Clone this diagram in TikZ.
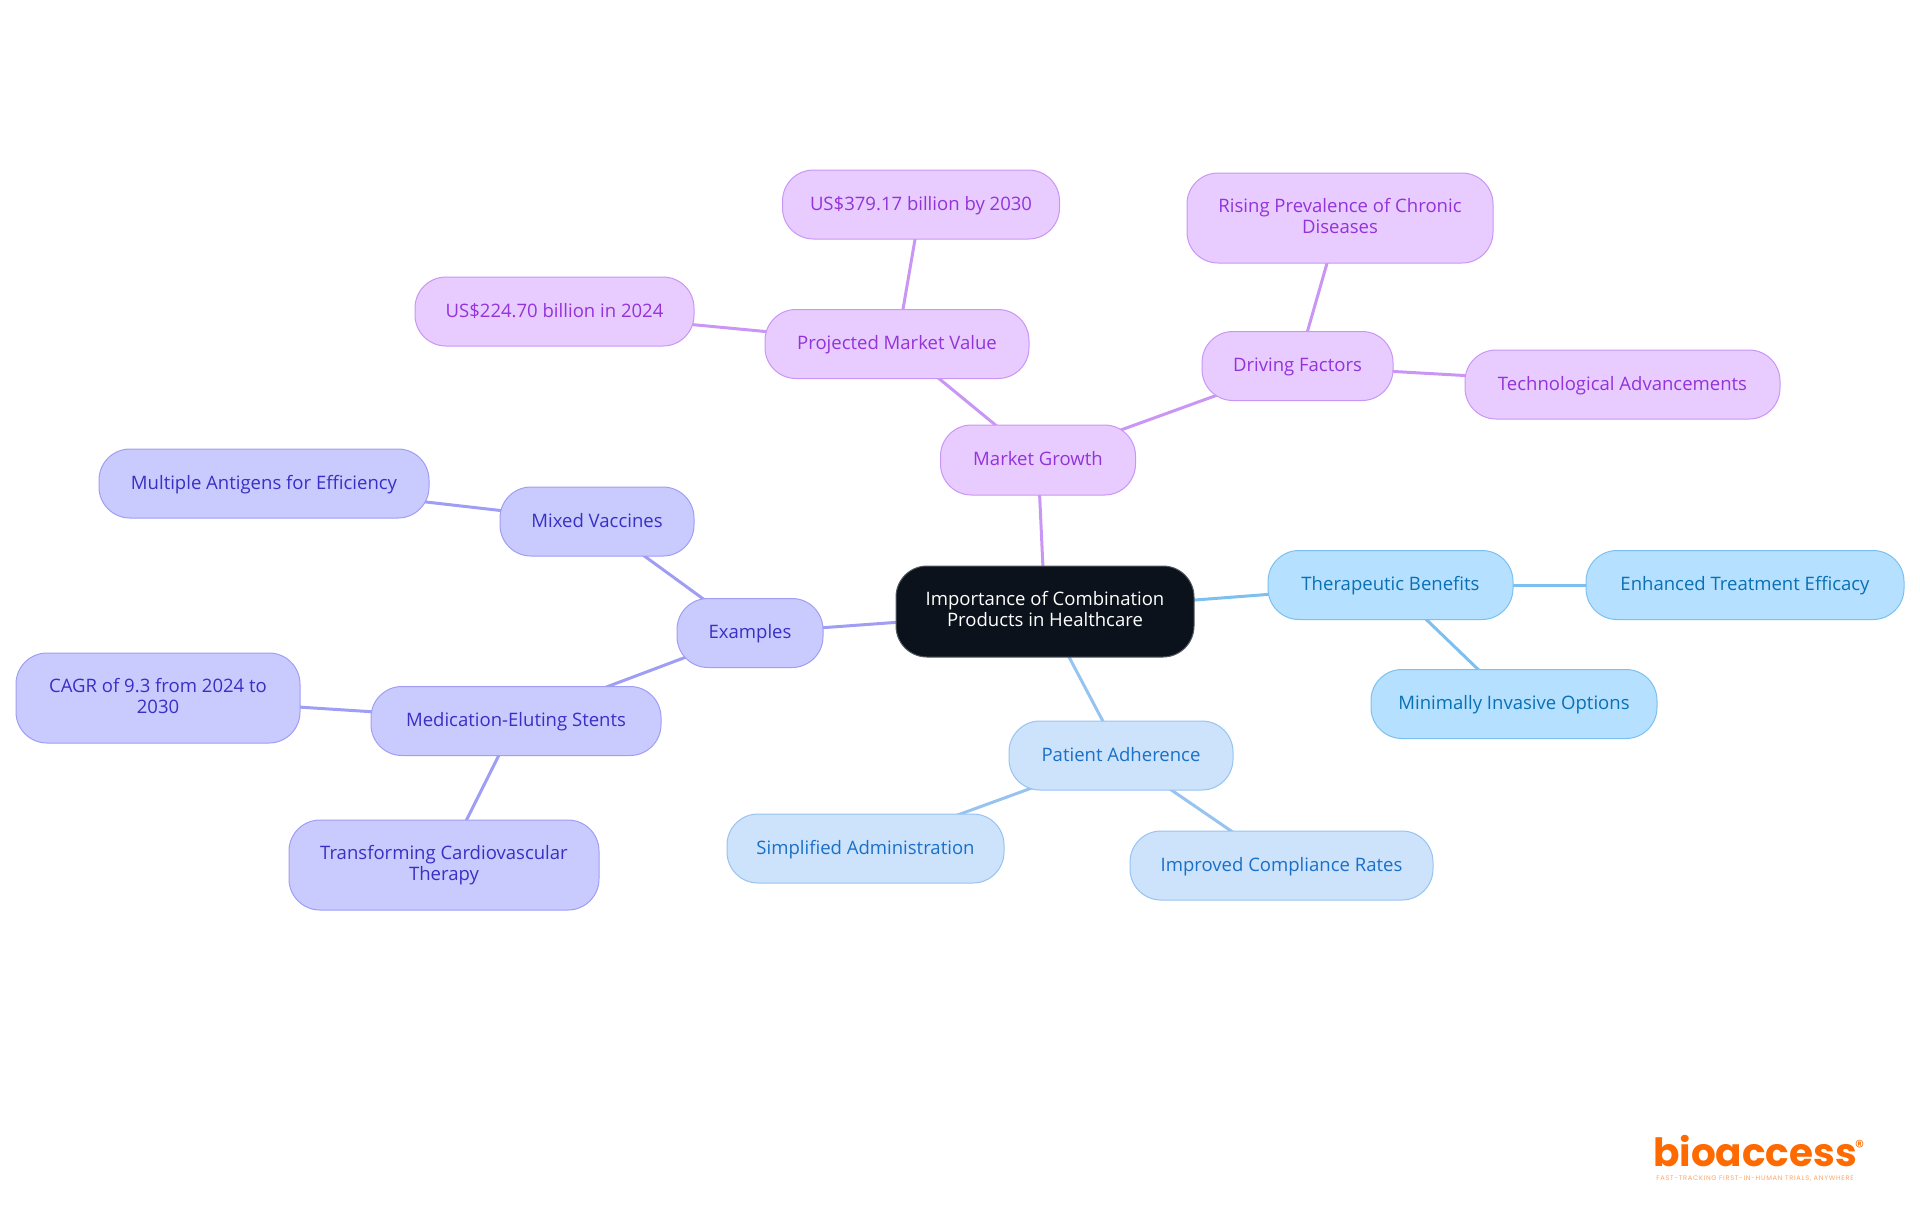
\documentclass[tikz,border=0pt]{standalone}
\usepackage{fontspec}
\setmainfont{Open Sans}
\newfontfamily\logofont{Poppins}
\usetikzlibrary{backgrounds}

\definecolor{rootfill}{HTML}{0B121B}
\definecolor{growthfill}{HTML}{E9CCFF}
\definecolor{growthline}{HTML}{C996F5}
\definecolor{growthtext}{HTML}{9333DA}
\definecolor{examplefill}{HTML}{C9CBFF}
\definecolor{exampleline}{HTML}{A09DF5}
\definecolor{exampletext}{HTML}{3A2FC4}
\definecolor{benefitfill}{HTML}{B5E0FF}
\definecolor{benefitline}{HTML}{7DC0F0}
\definecolor{benefittext}{HTML}{0A70B5}
\definecolor{adherefill}{HTML}{CDE3FC}
\definecolor{adhereline}{HTML}{97C3F0}
\definecolor{adheretext}{HTML}{1A70C8}
\definecolor{logoorange}{HTML}{FF6A00}

\tikzset{
	box/.style={draw, rounded corners=31*.75pt, align=center, inner sep=0pt, line width=.75pt,
		font=\fontsize{13.9}{15.6}\selectfont,
		execute at begin node={\rule{0pt}{11.9pt}}, execute at end node={\vphantom{g}}},
	dims/.style 2 args={minimum width=#1*.75pt, minimum height=#2*.75pt},
	rootbox/.style={box, fill=rootfill, draw=rootfill!70!white, text=white},
	growth/.style={box, fill=growthfill, draw=growthline, text=growthtext},
	example/.style={box, fill=examplefill, draw=exampleline, text=exampletext},
	benefit/.style={box, fill=benefitfill, draw=benefitline, text=benefittext},
	adhere/.style={box, fill=adherefill, draw=adhereline, text=adheretext},
	link/.style={line width=2.25pt}
}

\begin{document}
\begin{tikzpicture}[x=.75pt, y=-.75pt]
	
	\useasboundingbox (0,0) rectangle (1920,1215);
	
	\node[rootbox, dims={298}{91}] (root) at (1045,611.5) {Importance of Combination\\Products in Healthcare};
	
	\node[growth, dims={195}{70}] (market) at (1038,460) {Market Growth};
	\node[growth, dims={264}{69}] (projected) at (897,344) {Projected Market Value};
	\node[growth, dims={277}{69}] (usnew) at (921,204.5) {US\$379.17 billion by 2030};
	\node[growth, dims={279}{69}] (usold) at (554.5,311.5) {US\$224.70 billion in 2024};
	\node[growth, dims={191}{69}] (driving) at (1297.5,366) {Driving Factors};
	\node[growth, dims={306}{90}] (rising) at (1340,218) {Rising Prevalence of Chronic\\Diseases};
	\node[growth, dims={315}{69}] (techno) at (1622.5,384.5) {Technological Advancements};
	
	\node[example, dims={146}{69}] (examples) at (750,633) {Examples};
	\node[example, dims={194}{69}] (mixed) at (597,521.5) {Mixed Vaccines};
	\node[example, dims={330}{69}] (antigens) at (264,483.5) {Multiple Antigens for Efficiency};
	\node[example, dims={290}{69}] (stents) at (516,721) {Medication-Eluting Stents};
	\node[example, dims={284}{90}] (cagr) at (158,698) {CAGR of 9.3 from 2024 to\\2030};
	\node[example, dims={310}{90}] (cardio) at (444,865) {Transforming Cardiovascular\\Therapy};
	
	\node[benefit, dims={245}{69}] (therapeutic) at (1390.5,585) {Therapeutic Benefits};
	\node[benefit, dims={318}{69}] (efficacy) at (1745,585) {Enhanced Treatment Efficacy};
	\node[benefit, dims={286}{69}] (invasive) at (1514,704) {Minimally Invasive Options};
	
	\node[adhere, dims={224}{69}] (patient) at (1121,755.5) {Patient Adherence};
	\node[adhere, dims={277}{69}] (simplified) at (865.5,848.5) {Simplified Administration};
	\node[adhere, dims={303}{69}] (compliance) at (1281.5,865.5) {Improved Compliance Rates};
	
	\begin{scope}[on background layer]
		\draw[link, growthline] (root.center) -- (market.center);
		\draw[link, growthline] (market.center) -- (projected.center);
		\draw[link, growthline] (projected.center) -- (usnew.center);
		\draw[link, growthline] (projected.center) -- (usold.center);
		\draw[link, growthline] (market.center) -- (driving.center);
		\draw[link, growthline] (driving.center) -- (rising.center);
		\draw[link, growthline] (driving.center) -- (techno.center);
		
		\draw[link, exampleline] (root.center) -- (examples.center);
		\draw[link, exampleline] (examples.center) -- (mixed.center);
		\draw[link, exampleline] (mixed.center) -- (antigens.center);
		\draw[link, exampleline] (examples.center) -- (stents.center);
		\draw[link, exampleline] (stents.center) -- (cagr.center);
		\draw[link, exampleline] (stents.center) -- (cardio.center);
		
		\draw[link, benefitline] (root.center) -- (therapeutic.center);
		\draw[link, benefitline] (therapeutic.center) -- (efficacy.center);
		\draw[link, benefitline] (therapeutic.center) -- (invasive.center);
		
		\draw[link, adhereline] (root.center) -- (patient.center);
		\draw[link, adhereline] (patient.center) -- (simplified.center);
		\draw[link, adhereline] (patient.center) -- (compliance.center);
	\end{scope}
	
	\node[inner sep=0pt, text=logoorange, font=\logofont\bfseries\fontsize{29.2}{30}\selectfont] (logo) at (1755,1151) {bioaccess\rlap{\kern-1.5pt\raisebox{10pt}{\mdseries\fontsize{14}{14}\selectfont\textregistered}}};
	\node[inner sep=0pt, text=logoorange!60!white, font=\logofont\addfontfeature{LetterSpace=10.6}\fontsize{5}{6}\selectfont] (tagline) at (1755,1179) {FAST-TRACKING FIRST-IN-HUMAN TRIALS, ANYWHERE};
	
\end{tikzpicture}
\end{document}
